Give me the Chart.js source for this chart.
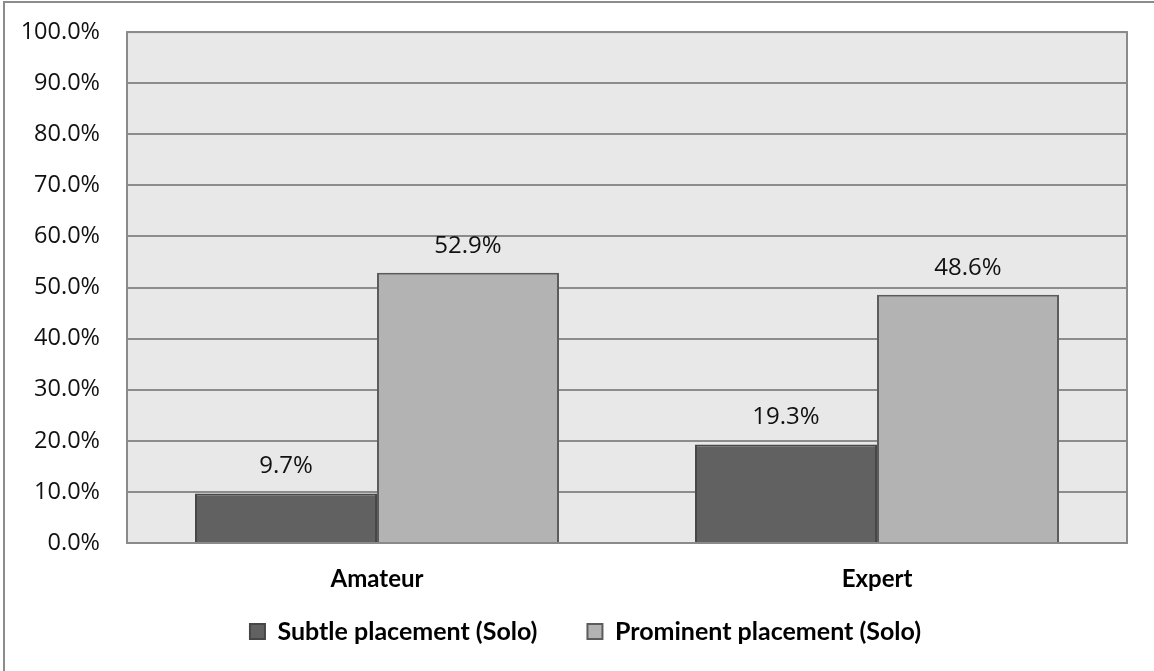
<!DOCTYPE html>
<html>
<head>
<meta charset="utf-8">
<script src="https://cdn.jsdelivr.net/npm/chart.js@4.4.0/dist/chart.umd.min.js"></script>
<style>
  body { margin: 0; background: #fff; overflow: hidden; }
  #frame { position: absolute; left: 3px; top: 1px; width: 1200px; height: 800px; border: 2px solid #8c8c8c; box-sizing: border-box; }
  #wrap { position: absolute; left: 0; top: 0; width: 1154px; height: 671px; }
</style>
</head>
<body>
<div id="frame"></div>
<div id="wrap"><canvas id="myChart"></canvas></div>
<script>
const categories = ['Amateur', 'Expert'];
const seriesNames = ['Subtle placement (Solo)', 'Prominent placement (Solo)'];
const subtleValues = [9.7, 19.3];
const prominentValues = [52.9, 48.6];
const tickMax = 100;
const tickStep = 10;

// plot background
const plotBg = {
  id: 'plotBg',
  beforeDraw(chart) {
    const a = chart.chartArea;
    const ctx = chart.ctx;
    ctx.save();
    ctx.fillStyle = '#e8e8e8';
    ctx.fillRect(a.left, a.top, a.right - a.left, a.bottom - a.top);
    ctx.restore();
  },
  afterDraw(chart) {
    const a = chart.chartArea;
    const ctx = chart.ctx;
    ctx.save();
    ctx.strokeStyle = '#8a8a8a';
    ctx.lineWidth = 2;
    ctx.strokeRect(a.left, a.top, a.right - a.left, a.bottom - a.top);
    ctx.restore();
  }
};

// move legend up a bit and to the right (it is centred on the whole frame in the original)
const legendShift = {
  id: 'legendShift',
  afterLayout(chart) {
    const lg = chart.legend;
    lg.top -= 36;
    lg.bottom -= 36;
    lg.left += 44;
  }
};

// value labels on top of bars
const barLabels = {
  id: 'barLabels',
  afterDatasetsDraw(chart) {
    const ctx = chart.ctx;
    ctx.save();
    ctx.font = '24px "Open Sans"';
    ctx.fillStyle = '#111';
    ctx.textAlign = 'center';
    ctx.textBaseline = 'middle';
    chart.data.datasets.forEach((ds, i) => {
      chart.getDatasetMeta(i).data.forEach((bar, j) => {
        ctx.fillText(ds.data[j].toFixed(1) + '%', bar.x, bar.y - 27);
      });
    });
    ctx.restore();
  }
};

const data = {
  labels: categories,
  datasets: [{
    label: seriesNames[0],
    data: subtleValues,
    backgroundColor: '#616161',
    borderColor: '#474747',
    borderWidth: 2
  }, {
    label: seriesNames[1],
    data: prominentValues,
    backgroundColor: '#b3b3b3',
    borderColor: '#5c5c5c',
    borderWidth: 2
  }]
};

const config = {
  type: 'bar',
  data: data,
  options: {
    responsive: false,
    animation: false,
    layout: { padding: { left: 0, right: 27, top: 32, bottom: -19 } },
    categoryPercentage: 0.728,
    barPercentage: 1,
    scales: {
      x: {
        grid: { display: false, drawTicks: false },
        border: { display: false },
        ticks: { color: '#000', padding: 22, font: { family: 'Lato', size: 24, weight: 'bold' } },
        afterFit(scale) { scale.height = 62; }
      },
      y: {
        min: 0,
        max: tickMax,
        grid: { color: '#8c8c8c', lineWidth: 2, drawTicks: true, tickLength: 9, tickColor: 'rgba(0,0,0,0)' },
        border: { display: false },
        ticks: {
          stepSize: tickStep,
          color: '#111',
          padding: 18,
          font: { family: 'Open Sans', size: 23.5 },
          callback: v => v.toFixed(1) + '%'
        },
        afterFit(scale) { scale.width = 127; }
      }
    },
    plugins: {
      legend: {
        position: 'bottom',
        labels: {
          color: '#000',
          boxWidth: 15,
          boxHeight: 15,
          padding: 50,
          font: { family: 'Lato', size: 25, weight: 'bold' }
        }
      },
      tooltip: { enabled: false }
    }
  },
  plugins: [plotBg, barLabels, legendShift]
};

const canvas = document.getElementById('myChart');
canvas.width = 1154;
canvas.height = 671;
const myChart = new Chart(canvas, config);
</script>
</body>
</html>
